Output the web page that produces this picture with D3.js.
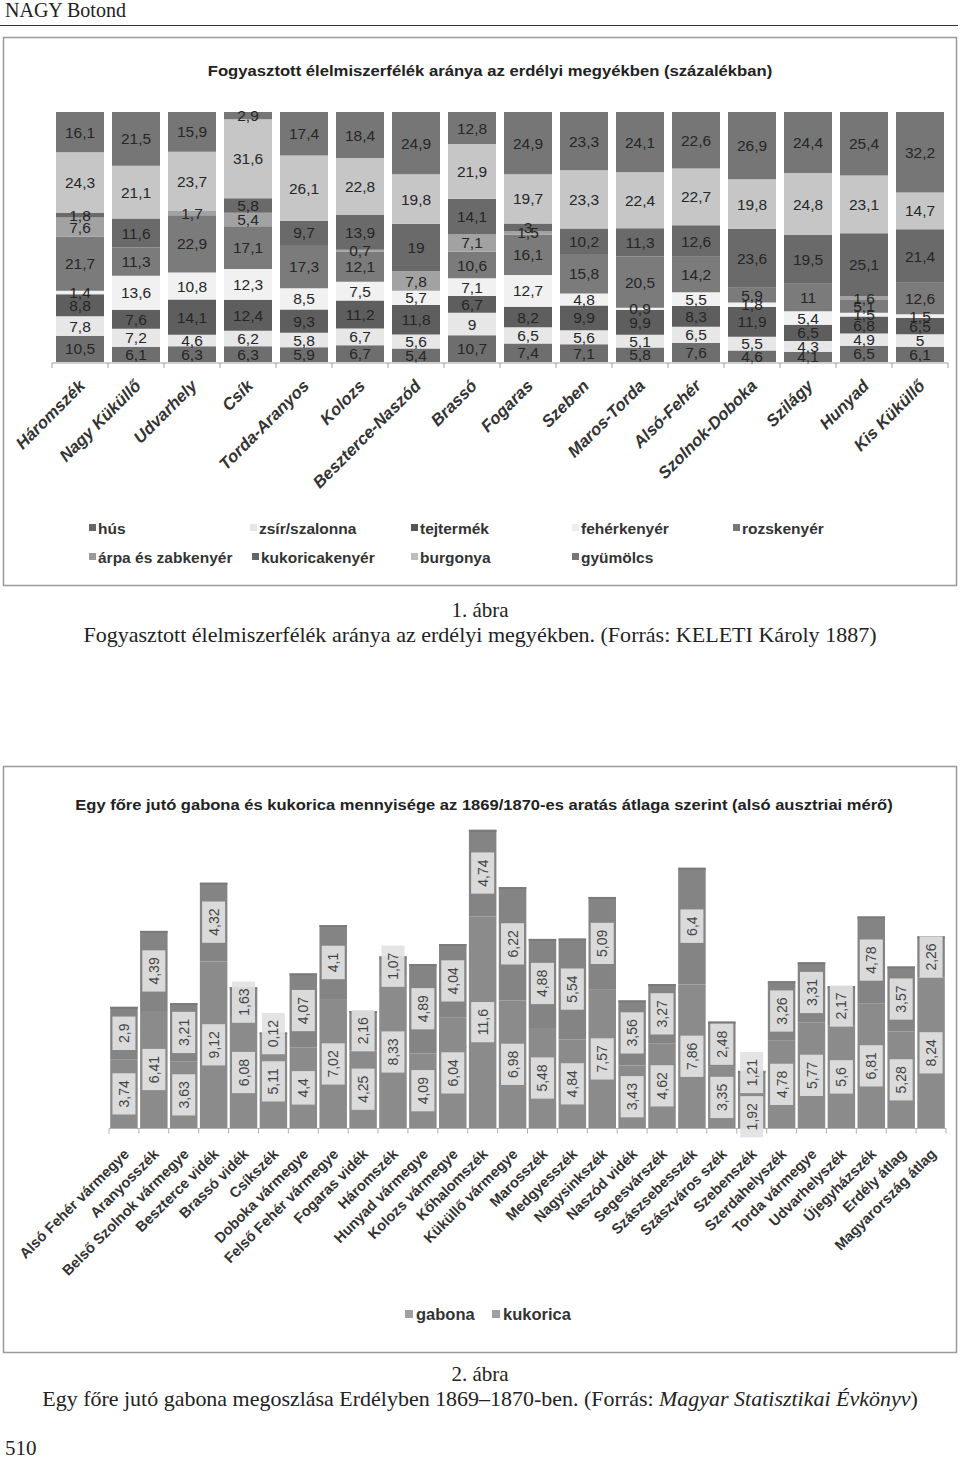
<!DOCTYPE html>
<html><head><meta charset="utf-8">
<script src="https://cdn.jsdelivr.net/npm/d3@7"></script>
<style>html,body{margin:0;padding:0;background:#fff}svg{display:block}</style>
</head><body>
<svg id="page" width="960" height="1460"></svg>
<script>
// ---------- DATA: chart 1 ----------
const counties1 = ["Háromszék","Nagy Küküllő","Udvarhely","Csík","Torda-Aranyos","Kolozs","Beszterce-Naszód","Brassó","Fogaras","Szeben","Maros-Torda","Alsó-Fehér","Szolnok-Doboka","Szilágy","Hunyad","Kis Küküllő"];
const foodSeries = ["hús","zsír/szalonna","tejtermék","fehérkenyér","rozskenyér","árpa és zabkenyér","kukoricakenyér","burgonya","gyümölcs"];
const hus        = [10.5,6.1,6.3,6.3,5.9,6.7,5.4,10.7,7.4,7.1,5.8,7.6,4.6,4.1,6.5,6.1];
const zsir       = [7.8,7.2,4.6,6.2,5.8,6.7,5.6,9,6.5,5.6,5.1,6.5,5.5,4.3,4.9,5];
const tejtermek  = [8.8,7.6,14.1,12.4,9.3,11.2,11.8,6.7,8.2,9.9,9.9,8.3,11.9,6.5,6.8,6.5];
const feherkenyer= [1.4,13.6,10.8,12.3,8.5,7.5,5.7,7.1,12.7,4.8,0.9,5.5,1.8,5.4,1.5,1.5];
const rozskenyer = [21.7,11.3,22.9,17.1,17.3,12.1,0,10.6,16.1,15.8,20.5,14.2,5.9,11,5.1,12.6];
const arpakenyer = [7.6,0,1.7,5.4,0,0.7,7.8,7.1,1.5,0,0,0,0,0,1.6,0];
const kukoricakenyer = [1.8,11.6,0,5.8,9.7,13.9,19,14.1,3,10.2,11.3,12.6,23.6,19.5,25.1,21.4];
const burgonya   = [24.3,21.1,23.7,31.6,26.1,22.8,19.8,21.9,19.7,23.3,22.4,22.7,19.8,24.8,23.1,14.7];
const gyumolcs   = [16.1,21.5,15.9,2.9,17.4,18.4,24.9,12.8,24.9,23.3,24.1,22.6,26.9,24.4,25.4,32.2];
const foodValues = [hus,zsir,tejtermek,feherkenyer,rozskenyer,arpakenyer,kukoricakenyer,burgonya,gyumolcs];

// ---------- DATA: chart 2 ----------
const regions2 = ["Alsó Fehér vármegye","Aranyosszék","Belső Szolnok vármegye","Beszterce vidék","Brassó vidék","Csíkszék","Doboka vármegye","Felső Fehér vármegye","Fogaras vidék","Háromszék","Hunyad vármegye","Kolozs vármegye","Kőhalomszék","Küküllő vármegye","Marosszék","Medgyesszék","Nagysinkszék","Naszód vidék","Segesvárszék","Szászsebesszék","Szászváros szék","Szebenszék","Szerdahelyszék","Torda vármegye","Udvarhelyszék","Újegyházszék","Erdély átlag","Magyarország átlag"];
const grainSeries = ["gabona","kukorica"];
const gabona   = [3.74,6.41,3.63,9.12,6.08,5.11,4.4,7.02,4.25,8.33,4.09,6.04,11.6,6.98,5.48,4.84,7.57,3.43,4.62,7.86,3.35,1.92,4.78,5.77,5.6,6.81,5.28,8.24];
const kukorica = [2.9,4.39,3.21,4.32,1.63,0.12,4.07,4.1,2.16,1.07,4.89,4.04,4.74,6.22,4.88,5.54,5.09,3.56,3.27,6.4,2.48,1.21,3.26,3.31,2.17,4.78,3.57,2.26];

// ---------- TEXTS ----------
const headerText = "NAGY Botond";
const title1 = "Fogyasztott élelmiszerfélék aránya az erdélyi megyékben (százalékban)";
const title2 = "Egy főre jutó gabona és kukorica mennyisége az 1869/1870-es aratás átlaga szerint (alsó ausztriai mérő)";
const cap1a = "1. ábra";
const cap1b = "Fogyasztott élelmiszerfélék aránya az erdélyi megyékben. (Forrás: KELETI Károly 1887)";
const cap2a = "2. ábra";
const pageNo = "510";

// ---------- STYLE ----------
const foodColors = ["#6e6e6e","#e7e7e7","#5e5e5e","#f1f1f1","#7b7b7b","#a2a2a2","#6a6a6a","#c6c6c6","#767676"];
const foodLegendColors = ["#666","#e6e6e6","#555","#eeeeee","#777","#9a9a9a","#666","#bdbdbd","#777"];
const grainColors = ["#8b8b8b","#848484"];
const SANS = "'Liberation Sans', Arial, sans-serif";
const SERIF = "'Liberation Serif', 'Times New Roman', serif";
const fmt = v => String(v).replace(".", ",");

const svg = d3.select("#page");
svg.append("rect").attr("width",960).attr("height",1460).attr("fill","#fff");

function scaledText(parent, x, y, width, anchor, build){
  const g = parent.append("g").attr("transform",`translate(${x},${y})`);
  const t = g.append("text").attr("text-anchor",anchor);
  build(t);
  const w = t.node().getBBox().width;
  g.attr("transform",`translate(${x},${y}) scale(${width/w},1)`);
  return t;
}

// header
svg.append("text").attr("x",5).attr("y",17).attr("font-family",SERIF).attr("font-size",20).attr("fill","#222").text(headerText);
svg.append("line").attr("x1",0).attr("x2",958).attr("y1",25.5).attr("y2",25.5).attr("stroke","#333").attr("stroke-width",1.2);

// ================= CHART 1 =================
svg.append("rect").attr("x",3.5).attr("y",37.5).attr("width",953).attr("height",548).attr("fill","#fff").attr("stroke","#9a9a9a").attr("stroke-width",1.5);
scaledText(svg, 490, 76, 565, "middle", t => t.attr("font-family",SANS).attr("font-weight","bold").attr("font-size",15.5).attr("fill","#222").text(title1));

const x1 = d3.scaleBand().domain(counties1).range([52,948]).paddingInner(0.143).paddingOuter(0.0715);
const y1 = d3.scaleLinear().domain([0,100]).range([362,112]);

const rows1 = counties1.map((c,i) => { const o = {county:c}; foodSeries.forEach((s,k)=> o[s]=foodValues[k][i]); return o; });
const stack1 = d3.stack().keys(foodSeries)(rows1);

const g1 = svg.append("g");
stack1.forEach((layer,k) => {
  g1.selectAll(null).data(layer).join("rect")
    .attr("x", d => x1(d.data.county))
    .attr("width", x1.bandwidth())
    .attr("y", d => y1(d[1]))
    .attr("height", d => y1(d[0]) - y1(d[1]))
    .attr("fill", foodColors[k]);
});
stack1.forEach((layer,k) => {
  g1.selectAll(null).data(layer.filter(d => d[1]-d[0] > 0)).join("text")
    .attr("x", d => x1(d.data.county) + x1.bandwidth()/2)
    .attr("y", d => (y1(d[0]) + y1(d[1]))/2)
    .attr("dy","0.36em")
    .attr("text-anchor","middle")
    .attr("font-family",SANS).attr("font-size",15.5).attr("fill","#262626")
    .text(d => fmt(Math.round((d[1]-d[0])*10)/10));
});

// axis 1
const ax1 = svg.append("g").attr("transform","translate(0,363)")
  .call(d3.axisBottom(x1).tickSize(0).tickFormat(""));
ax1.select(".domain").attr("stroke","#a0a0a0").attr("d","M52,0H948");
ax1.selectAll(null).data(d3.range(counties1.length+1)).join("line")
  .attr("x1", i => 52 + i*x1.step()).attr("x2", i => 52 + i*x1.step())
  .attr("y1",0).attr("y2",5).attr("stroke","#a0a0a0");
svg.append("g").selectAll("text").data(counties1).join("text")
  .attr("transform", d => `translate(${x1(d)+x1.bandwidth()/2+6},${387}) rotate(-45)`)
  .attr("text-anchor","end")
  .attr("font-family",SANS).attr("font-weight","bold").attr("font-style","italic")
  .attr("font-size",16.8).attr("fill","#333")
  .text(d => d);

// legend 1
const leg1x = [89,250,411,572,733];
const leg1 = svg.append("g");
foodSeries.forEach((s,k) => {
  const col = k < 5 ? k : k-5, row = k < 5 ? 0 : 1;
  const lx = leg1x[col] + (k===6 ? 2 : 0), ly = 528 + row*29;
  leg1.append("rect").attr("x",lx).attr("y",ly-4).attr("width",7).attr("height",7).attr("fill",foodLegendColors[k]);
  leg1.append("text").attr("x",lx+9).attr("y",ly).attr("dy","0.36em")
    .attr("font-family",SANS).attr("font-weight","bold").attr("font-size",15.5).attr("fill","#333")
    .text(s);
});

// caption 1
svg.append("text").attr("x",480).attr("y",617).attr("text-anchor","middle").attr("font-family",SERIF).attr("font-size",21).attr("fill","#222").text(cap1a);
scaledText(svg, 480, 642, 794, "middle", t => t.attr("font-family",SERIF).attr("font-size",21).attr("fill","#222").text(cap1b));

// ================= CHART 2 =================
svg.append("rect").attr("x",3.5).attr("y",766.5).attr("width",953).attr("height",586).attr("fill","#fff").attr("stroke","#9a9a9a").attr("stroke-width",1.5);
scaledText(svg, 484, 810, 818, "middle", t => t.attr("font-family",SANS).attr("font-weight","bold").attr("font-size",15.5).attr("fill","#222").text(title2));

const x2 = d3.scaleBand().domain(regions2).range([109,946]).paddingInner(0.08).paddingOuter(0.04);
const y2 = d3.scaleLinear().domain([0,18]).range([1128,1128-18*18.25]);
const rows2 = regions2.map((r,i) => ({region:r, gabona:gabona[i], kukorica:kukorica[i]}));
const stack2 = d3.stack().keys(grainSeries)(rows2);

const g2 = svg.append("g");
stack2.forEach((layer,k) => {
  g2.selectAll(null).data(layer).join("rect")
    .attr("x", d => x2(d.data.region))
    .attr("width", x2.bandwidth())
    .attr("y", d => y2(d[1]))
    .attr("height", d => y2(d[0]) - y2(d[1]))
    .attr("fill", grainColors[k]);
});
g2.selectAll(null).data(stack2[1]).join("rect")
  .attr("x", d => x2(d.data.region)).attr("width", x2.bandwidth())
  .attr("y", d => y2(d[1])).attr("height", 2).attr("fill","#7a7a7a");

// axis 2
const ax2 = svg.append("g").attr("transform","translate(0,1128.5)")
  .call(d3.axisBottom(x2).tickSize(0).tickFormat(""));
ax2.select(".domain").attr("stroke","#b0b0b0").attr("d","M109,0H946");
ax2.selectAll(null).data(d3.range(regions2.length+1)).join("line")
  .attr("x1", i => 109 + i*x2.step()).attr("x2", i => 109 + i*x2.step())
  .attr("y1",0).attr("y2",5).attr("stroke","#b0b0b0");

// data labels 2 (rotated, boxed) — with simple de-overlap per bar
const lab2 = svg.append("g");
const measure = svg.append("text").attr("font-family",SANS).attr("font-size",14).attr("visibility","hidden");
regions2.forEach((reg,i) => {
  const cx = x2(reg) + x2.bandwidth()/2;
  const items = stack2.map(layer => {
    const d = layer[i];
    const txt = fmt(+(d[1]-d[0]).toFixed(2));
    measure.text(txt);
    const len = measure.node().getComputedTextLength() + 14;
    return {txt, len, cy:(y2(d[0]) + y2(d[1]))/2};
  });
  // items[0] lower (gabona), items[1] upper (kukorica)
  const gapNeeded = items[0].len/2 + items[1].len/2 + 3;
  const gap = items[0].cy - items[1].cy;
  if (gap < gapNeeded) {
    const extra = gapNeeded - gap;
    items[0].cy += extra*0.4;
    items[1].cy -= extra*0.6;
  }
  items.forEach(it => {
    const g = lab2.append("g").attr("transform",`translate(${cx},${it.cy}) rotate(-90)`);
    g.append("rect").attr("x",-it.len/2).attr("y",-11.5).attr("width",it.len).attr("height",23)
     .attr("fill", "#e2e2e2").attr("fill-opacity",0.92);
    g.append("text").attr("text-anchor","middle").attr("dy","0.36em")
      .attr("font-family",SANS).attr("font-size",14).attr("fill","#444").text(it.txt);
  });
});
measure.remove();

// x labels 2
svg.append("g").selectAll("text").data(regions2).join("text")
  .attr("transform", d => `translate(${x2(d)+x2.bandwidth()/2+6},${1155}) rotate(-45)`)
  .attr("text-anchor","end")
  .attr("font-family",SANS).attr("font-weight","bold")
  .attr("font-size",14.6).attr("fill","#333")
  .text(d => d);

// legend 2
const leg2x = [405,492];
grainSeries.forEach((s,k) => {
  svg.append("rect").attr("x",leg2x[k]).attr("y",1310).attr("width",8).attr("height",8).attr("fill","#a0a0a0");
  svg.append("text").attr("x",leg2x[k]+11).attr("y",1314).attr("dy","0.36em")
    .attr("font-family",SANS).attr("font-weight","bold").attr("font-size",16.5).attr("fill","#333").text(s);
});

// caption 2
svg.append("text").attr("x",480).attr("y",1381).attr("text-anchor","middle").attr("font-family",SERIF).attr("font-size",21).attr("fill","#222").text(cap2a);
scaledText(svg, 480, 1406, 876, "middle", t => {
  t.attr("font-family",SERIF).attr("font-size",21).attr("fill","#222");
  t.append("tspan").text("Egy főre jutó gabona megoszlása Erdélyben 1869–1870-ben. (Forrás: ");
  t.append("tspan").attr("font-style","italic").text("Magyar Statisztikai Évkönyv");
  t.append("tspan").text(")");
});
svg.append("text").attr("x",5).attr("y",1455).attr("font-family",SERIF).attr("font-size",21).attr("fill","#222").text(pageNo);
</script>
</body></html>
